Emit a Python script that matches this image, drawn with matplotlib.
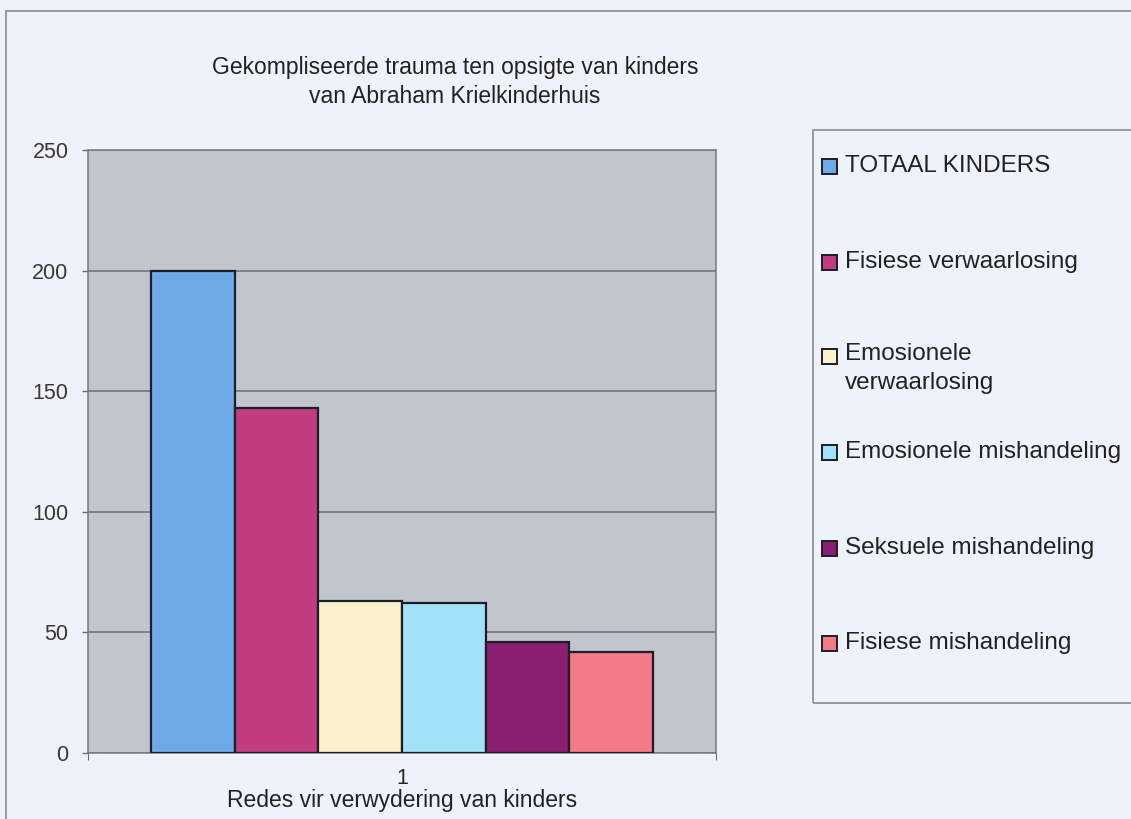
import matplotlib
matplotlib.use("Agg")
import matplotlib.pyplot as plt
from matplotlib.patches import Rectangle

plt.rcParams['font.family'] = ['Liberation Sans', 'DejaVu Sans']

# data
categories = ['TOTAAL KINDERS', 'Fisiese verwaarlosing', 'Emosionele\nverwaarlosing',
              'Emosionele mishandeling', 'Seksuele mishandeling', 'Fisiese mishandeling']
values = [200, 143, 63, 62, 46, 42]
colors = ['#6eaae8', '#c23c80', '#faf2cc', '#a2e2f8', '#8a1f70', '#f47a88']
title = "Gekompliseerde trauma ten opsigte van kinders\nvan Abraham Krielkinderhuis"
xlabel = "Redes vir verwydering van kinders"
yticks = [0, 50, 100, 150, 200, 250]

W, H = 1131, 819
fig = plt.figure(figsize=(W / 100, H / 100), dpi=100)
fig.patch.set_facecolor('#eef2fa')
txt = '#222222'

# outer chart frame
fig.patches.append(Rectangle((6 / W, -0.1), 1.2, (H - 11) / H + 0.1, transform=fig.transFigure,
                             fill=False, edgecolor='#8a8a8a', lw=1.2))

ax = fig.add_axes([88 / W, (H - 753) / H, (716 - 88) / W, (753 - 150) / H])
ax.set_facecolor('#c1c5cd')

n = len(values)
group = 0.8
bw = group / n
for i, (v, c) in enumerate(zip(values, colors)):
    x = 0.5 - group / 2 + bw * (i + 0.5)
    ax.bar(x, v, width=bw, color=c, edgecolor='#1e1e28', linewidth=1.6, zorder=3)

ax.set_xlim(0, 1)
ax.set_ylim(0, 250)
ax.set_yticks(yticks)
ax.yaxis.grid(True, color='#6e6e6e', linewidth=1.1, zorder=0)
ax.tick_params(axis='y', length=4, width=1, color='#6e6e6e', labelsize=15.5, pad=10,
               labelcolor='#3a3830')

ax.set_xticks([0, 1])
ax.set_xticklabels(['', ''])
ax.set_xticks([0.5], minor=True)
ax.set_xticklabels(['1'], minor=True, fontsize=15.5, color=txt)
ax.tick_params(axis='x', which='major', length=5, color='#6e6e6e')
ax.tick_params(axis='x', which='minor', length=0, pad=11)
ax.set_xlabel(xlabel, fontsize=16.5, color=txt, va='center')
ax.xaxis.set_label_coords(0.5, -(800 - 753) / 603)

for s in ax.spines.values():
    s.set_color('#7a7a7a')
    s.set_linewidth(1.1)

fig.text(455 / W, 1 - 82 / H, title, ha='center', va='center', fontsize=16.5,
         linespacing=1.35, color=txt)

# legend box
lx0, ly0, ly1 = 813, 130, 703
fig.patches.append(Rectangle((lx0 / W, 1 - ly1 / H), 1.0, (ly1 - ly0) / H, transform=fig.transFigure,
                             fill=False, edgecolor='#8a8a8a', lw=1.2))
ypos = [166, 262, 356, 452, 548, 643]
for lab, c, y in zip(categories, colors, ypos):
    fig.patches.append(Rectangle((822 / W, 1 - (y + 8) / H), 15 / W, 15 / H, transform=fig.transFigure,
                                 facecolor=c, edgecolor='#1e1e28', lw=1.4))
    if '\n' in lab:
        fig.text(845 / W, 1 - (y - 13) / H, lab, ha='left', va='top', fontsize=17.5,
                 linespacing=1.4, color=txt)
    else:
        fig.text(845 / W, 1 - y / H, lab, ha='left', va='center', fontsize=17.5, color=txt)

fig.savefig('out.png', dpi=100, facecolor=fig.get_facecolor())
